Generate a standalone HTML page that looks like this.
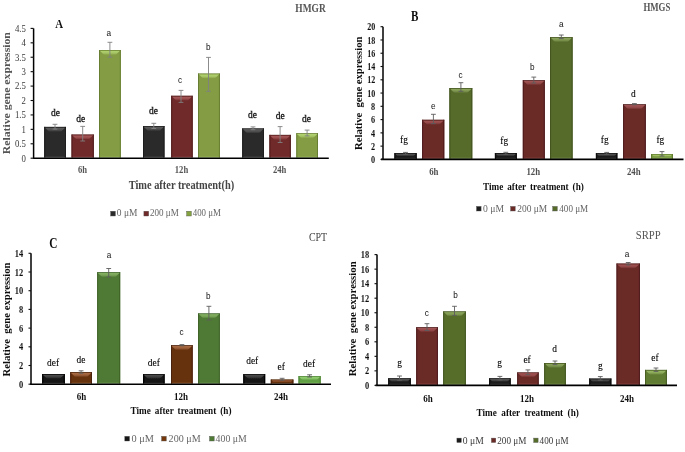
<!DOCTYPE html>
<html><head><meta charset="utf-8"><style>
html,body{margin:0;padding:0;background:#fff;}
svg{display:block;}
</style></head><body>
<svg width="685" height="452" viewBox="0 0 685 452">
<defs><filter id="bl" x="0" y="0" width="100%" height="100%"><feGaussianBlur stdDeviation="0.45"/></filter></defs>
<rect width="685" height="452" fill="#fff"/>
<g filter="url(#bl)">
<rect x="44.2" y="126.9" width="21.70" height="30.70" fill="#2c2c2c"/>
<rect x="44.2" y="126.9" width="1" height="30.70" fill="#1a1a1a"/>
<rect x="64.90" y="126.9" width="1" height="30.70" fill="#1a1a1a"/>
<linearGradient id="g3" x1="0" y1="0" x2="0" y2="1"><stop offset="0.15" stop-color="#5a5a5a"/><stop offset="0.55" stop-color="#5a5a5a" stop-opacity="0.75"/><stop offset="1" stop-color="#5a5a5a" stop-opacity="0"/></linearGradient>
<polygon points="44.90,127.50 65.20,127.50 60.80,131.90 49.30,131.90" fill="url(#g3)"/>
<rect x="44.2" y="126.9" width="21.70" height="0.6" fill="#1a1a1a"/>
<rect x="45.70" y="156.30" width="18.70" height="0.6" fill="#5a5a5a" opacity="0.35"/>
<rect x="71.5" y="134.6" width="22.30" height="23.00" fill="#702a2a"/>
<rect x="71.5" y="134.6" width="1" height="23.00" fill="#521c1c"/>
<rect x="92.80" y="134.6" width="1" height="23.00" fill="#521c1c"/>
<linearGradient id="g10" x1="0" y1="0" x2="0" y2="1"><stop offset="0.15" stop-color="#a65656"/><stop offset="0.55" stop-color="#a65656" stop-opacity="0.75"/><stop offset="1" stop-color="#a65656" stop-opacity="0"/></linearGradient>
<polygon points="72.20,135.20 93.10,135.20 88.70,139.60 76.60,139.60" fill="url(#g10)"/>
<rect x="71.5" y="134.6" width="22.30" height="0.6" fill="#521c1c"/>
<rect x="73.00" y="156.30" width="19.30" height="0.6" fill="#a65656" opacity="0.35"/>
<rect x="99.0" y="50.0" width="21.80" height="107.60" fill="#849d44"/>
<rect x="99.0" y="50.0" width="1" height="107.60" fill="#667d32"/>
<rect x="119.80" y="50.0" width="1" height="107.60" fill="#667d32"/>
<linearGradient id="g17" x1="0" y1="0" x2="0" y2="1"><stop offset="0.15" stop-color="#b0d06e"/><stop offset="0.55" stop-color="#b0d06e" stop-opacity="0.75"/><stop offset="1" stop-color="#b0d06e" stop-opacity="0"/></linearGradient>
<polygon points="99.70,50.60 120.10,50.60 115.70,55.00 104.10,55.00" fill="url(#g17)"/>
<rect x="99.0" y="50.0" width="21.80" height="0.6" fill="#667d32"/>
<rect x="100.50" y="156.30" width="18.80" height="0.6" fill="#b0d06e" opacity="0.35"/>
<rect x="143.0" y="126.10000000000001" width="21.50" height="31.50" fill="#2c2c2c"/>
<rect x="143.0" y="126.10000000000001" width="1" height="31.50" fill="#1a1a1a"/>
<rect x="163.50" y="126.10000000000001" width="1" height="31.50" fill="#1a1a1a"/>
<linearGradient id="g24" x1="0" y1="0" x2="0" y2="1"><stop offset="0.15" stop-color="#5a5a5a"/><stop offset="0.55" stop-color="#5a5a5a" stop-opacity="0.75"/><stop offset="1" stop-color="#5a5a5a" stop-opacity="0"/></linearGradient>
<polygon points="143.70,126.70 163.80,126.70 159.40,131.10 148.10,131.10" fill="url(#g24)"/>
<rect x="143.0" y="126.10000000000001" width="21.50" height="0.6" fill="#1a1a1a"/>
<rect x="144.50" y="156.30" width="18.50" height="0.6" fill="#5a5a5a" opacity="0.35"/>
<rect x="171.2" y="95.8" width="21.50" height="61.80" fill="#702a2a"/>
<rect x="171.2" y="95.8" width="1" height="61.80" fill="#521c1c"/>
<rect x="191.70" y="95.8" width="1" height="61.80" fill="#521c1c"/>
<linearGradient id="g31" x1="0" y1="0" x2="0" y2="1"><stop offset="0.15" stop-color="#a65656"/><stop offset="0.55" stop-color="#a65656" stop-opacity="0.75"/><stop offset="1" stop-color="#a65656" stop-opacity="0"/></linearGradient>
<polygon points="171.90,96.40 192.00,96.40 187.60,100.80 176.30,100.80" fill="url(#g31)"/>
<rect x="171.2" y="95.8" width="21.50" height="0.6" fill="#521c1c"/>
<rect x="172.70" y="156.30" width="18.50" height="0.6" fill="#a65656" opacity="0.35"/>
<rect x="198.0" y="73.60000000000001" width="21.90" height="84.00" fill="#849d44"/>
<rect x="198.0" y="73.60000000000001" width="1" height="84.00" fill="#667d32"/>
<rect x="218.90" y="73.60000000000001" width="1" height="84.00" fill="#667d32"/>
<linearGradient id="g38" x1="0" y1="0" x2="0" y2="1"><stop offset="0.15" stop-color="#b0d06e"/><stop offset="0.55" stop-color="#b0d06e" stop-opacity="0.75"/><stop offset="1" stop-color="#b0d06e" stop-opacity="0"/></linearGradient>
<polygon points="198.70,74.20 219.20,74.20 214.80,78.60 203.10,78.60" fill="url(#g38)"/>
<rect x="198.0" y="73.60000000000001" width="21.90" height="0.6" fill="#667d32"/>
<rect x="199.50" y="156.30" width="18.90" height="0.6" fill="#b0d06e" opacity="0.35"/>
<rect x="242.2" y="128.5" width="21.70" height="29.10" fill="#2c2c2c"/>
<rect x="242.2" y="128.5" width="1" height="29.10" fill="#1a1a1a"/>
<rect x="262.90" y="128.5" width="1" height="29.10" fill="#1a1a1a"/>
<linearGradient id="g45" x1="0" y1="0" x2="0" y2="1"><stop offset="0.15" stop-color="#5a5a5a"/><stop offset="0.55" stop-color="#5a5a5a" stop-opacity="0.75"/><stop offset="1" stop-color="#5a5a5a" stop-opacity="0"/></linearGradient>
<polygon points="242.90,129.10 263.20,129.10 258.80,133.50 247.30,133.50" fill="url(#g45)"/>
<rect x="242.2" y="128.5" width="21.70" height="0.6" fill="#1a1a1a"/>
<rect x="243.70" y="156.30" width="18.70" height="0.6" fill="#5a5a5a" opacity="0.35"/>
<rect x="269.4" y="134.89999999999998" width="21.40" height="22.70" fill="#702a2a"/>
<rect x="269.4" y="134.89999999999998" width="1" height="22.70" fill="#521c1c"/>
<rect x="289.80" y="134.89999999999998" width="1" height="22.70" fill="#521c1c"/>
<linearGradient id="g52" x1="0" y1="0" x2="0" y2="1"><stop offset="0.15" stop-color="#a65656"/><stop offset="0.55" stop-color="#a65656" stop-opacity="0.75"/><stop offset="1" stop-color="#a65656" stop-opacity="0"/></linearGradient>
<polygon points="270.10,135.50 290.10,135.50 285.70,139.90 274.50,139.90" fill="url(#g52)"/>
<rect x="269.4" y="134.89999999999998" width="21.40" height="0.6" fill="#521c1c"/>
<rect x="270.90" y="156.30" width="18.40" height="0.6" fill="#a65656" opacity="0.35"/>
<rect x="296.3" y="133.29999999999998" width="21.70" height="24.30" fill="#849d44"/>
<rect x="296.3" y="133.29999999999998" width="1" height="24.30" fill="#667d32"/>
<rect x="317.00" y="133.29999999999998" width="1" height="24.30" fill="#667d32"/>
<linearGradient id="g59" x1="0" y1="0" x2="0" y2="1"><stop offset="0.15" stop-color="#b0d06e"/><stop offset="0.55" stop-color="#b0d06e" stop-opacity="0.75"/><stop offset="1" stop-color="#b0d06e" stop-opacity="0"/></linearGradient>
<polygon points="297.00,133.90 317.30,133.90 312.90,138.30 301.40,138.30" fill="url(#g59)"/>
<rect x="296.3" y="133.29999999999998" width="21.70" height="0.6" fill="#667d32"/>
<rect x="297.80" y="156.30" width="18.70" height="0.6" fill="#b0d06e" opacity="0.35"/>
<line x1="55" y1="124.3" x2="55" y2="129.1" stroke="#808080" stroke-width="0.9"/>
<line x1="52.6" y1="124.3" x2="57.4" y2="124.3" stroke="#808080" stroke-width="0.9"/>
<line x1="52.6" y1="129.1" x2="57.4" y2="129.1" stroke="#808080" stroke-width="0.9"/>
<line x1="82.7" y1="126.4" x2="82.7" y2="141" stroke="#808080" stroke-width="0.9"/>
<line x1="80.3" y1="126.4" x2="85.10000000000001" y2="126.4" stroke="#808080" stroke-width="0.9"/>
<line x1="80.3" y1="141" x2="85.10000000000001" y2="141" stroke="#808080" stroke-width="0.9"/>
<line x1="109.9" y1="42.3" x2="109.9" y2="57.2" stroke="#808080" stroke-width="0.9"/>
<line x1="107.5" y1="42.3" x2="112.30000000000001" y2="42.3" stroke="#808080" stroke-width="0.9"/>
<line x1="107.5" y1="57.2" x2="112.30000000000001" y2="57.2" stroke="#808080" stroke-width="0.9"/>
<line x1="153.8" y1="123.3" x2="153.8" y2="128.5" stroke="#808080" stroke-width="0.9"/>
<line x1="151.4" y1="123.3" x2="156.20000000000002" y2="123.3" stroke="#808080" stroke-width="0.9"/>
<line x1="151.4" y1="128.5" x2="156.20000000000002" y2="128.5" stroke="#808080" stroke-width="0.9"/>
<line x1="181.0" y1="90.4" x2="181.0" y2="102.4" stroke="#808080" stroke-width="0.9"/>
<line x1="178.6" y1="90.4" x2="183.4" y2="90.4" stroke="#808080" stroke-width="0.9"/>
<line x1="178.6" y1="102.4" x2="183.4" y2="102.4" stroke="#808080" stroke-width="0.9"/>
<line x1="208.5" y1="57.4" x2="208.5" y2="91.3" stroke="#808080" stroke-width="0.9"/>
<line x1="206.1" y1="57.4" x2="210.9" y2="57.4" stroke="#808080" stroke-width="0.9"/>
<line x1="206.1" y1="91.3" x2="210.9" y2="91.3" stroke="#808080" stroke-width="0.9"/>
<line x1="253" y1="126.9" x2="253" y2="129.7" stroke="#808080" stroke-width="0.9"/>
<line x1="250.6" y1="126.9" x2="255.4" y2="126.9" stroke="#808080" stroke-width="0.9"/>
<line x1="250.6" y1="129.7" x2="255.4" y2="129.7" stroke="#808080" stroke-width="0.9"/>
<line x1="280.1" y1="126.6" x2="280.1" y2="142.5" stroke="#808080" stroke-width="0.9"/>
<line x1="277.70000000000005" y1="126.6" x2="282.5" y2="126.6" stroke="#808080" stroke-width="0.9"/>
<line x1="277.70000000000005" y1="142.5" x2="282.5" y2="142.5" stroke="#808080" stroke-width="0.9"/>
<line x1="307.1" y1="130.1" x2="307.1" y2="135.9" stroke="#808080" stroke-width="0.9"/>
<line x1="304.70000000000005" y1="130.1" x2="309.5" y2="130.1" stroke="#808080" stroke-width="0.9"/>
<line x1="304.70000000000005" y1="135.9" x2="309.5" y2="135.9" stroke="#808080" stroke-width="0.9"/>
<line x1="33.6" y1="28.4" x2="33.6" y2="158.89999999999998" stroke="#000" stroke-width="1.5"/>
<line x1="33.0" y1="158.2" x2="328.8" y2="158.2" stroke="#000" stroke-width="1.6"/>
<line x1="30.6" y1="158.2" x2="33.6" y2="158.2" stroke="#111" stroke-width="1.1"/>
<text transform="translate(25.9 161.5) scale(0.8333 1)" font-family="'Liberation Serif', serif" font-size="10.56" fill="#3a3a3a" text-anchor="end">0</text>
<line x1="30.6" y1="143.77777777777777" x2="33.6" y2="143.77777777777777" stroke="#111" stroke-width="1.1"/>
<text transform="translate(25.9 147.07777777777778) scale(0.8333 1)" font-family="'Liberation Serif', serif" font-size="10.56" fill="#3a3a3a" text-anchor="end">0.5</text>
<line x1="30.6" y1="129.35555555555555" x2="33.6" y2="129.35555555555555" stroke="#111" stroke-width="1.1"/>
<text transform="translate(25.9 132.65555555555557) scale(0.8333 1)" font-family="'Liberation Serif', serif" font-size="10.56" fill="#3a3a3a" text-anchor="end">1</text>
<line x1="30.6" y1="114.93333333333332" x2="33.6" y2="114.93333333333332" stroke="#111" stroke-width="1.1"/>
<text transform="translate(25.9 118.23333333333332) scale(0.8333 1)" font-family="'Liberation Serif', serif" font-size="10.56" fill="#3a3a3a" text-anchor="end">1.5</text>
<line x1="30.6" y1="100.5111111111111" x2="33.6" y2="100.5111111111111" stroke="#111" stroke-width="1.1"/>
<text transform="translate(25.9 103.8111111111111) scale(0.8333 1)" font-family="'Liberation Serif', serif" font-size="10.56" fill="#3a3a3a" text-anchor="end">2</text>
<line x1="30.6" y1="86.08888888888889" x2="33.6" y2="86.08888888888889" stroke="#111" stroke-width="1.1"/>
<text transform="translate(25.9 89.38888888888889) scale(0.8333 1)" font-family="'Liberation Serif', serif" font-size="10.56" fill="#3a3a3a" text-anchor="end">2.5</text>
<line x1="30.6" y1="71.66666666666666" x2="33.6" y2="71.66666666666666" stroke="#111" stroke-width="1.1"/>
<text transform="translate(25.9 74.96666666666665) scale(0.8333 1)" font-family="'Liberation Serif', serif" font-size="10.56" fill="#3a3a3a" text-anchor="end">3</text>
<line x1="30.6" y1="57.24444444444444" x2="33.6" y2="57.24444444444444" stroke="#111" stroke-width="1.1"/>
<text transform="translate(25.9 60.54444444444444) scale(0.8333 1)" font-family="'Liberation Serif', serif" font-size="10.56" fill="#3a3a3a" text-anchor="end">3.5</text>
<line x1="30.6" y1="42.82222222222222" x2="33.6" y2="42.82222222222222" stroke="#111" stroke-width="1.1"/>
<text transform="translate(25.9 46.12222222222222) scale(0.8333 1)" font-family="'Liberation Serif', serif" font-size="10.56" fill="#3a3a3a" text-anchor="end">4</text>
<line x1="30.6" y1="28.400000000000006" x2="33.6" y2="28.400000000000006" stroke="#111" stroke-width="1.1"/>
<text transform="translate(25.9 31.700000000000006) scale(0.8333 1)" font-family="'Liberation Serif', serif" font-size="10.56" fill="#3a3a3a" text-anchor="end">4.5</text>
<text transform="translate(10.4 93.2) rotate(-90) scale(1.0000 1)" font-family="'Liberation Serif', serif" font-size="10.20" font-weight="bold" fill="#555" text-anchor="middle" textLength="122.00" lengthAdjust="spacingAndGlyphs">Relative gene expression</text>
<text transform="translate(55.2 27.9) scale(0.8333 1)" font-family="'Liberation Serif', serif" font-size="12.96" font-weight="bold" fill="#111">A</text>
<text transform="translate(295.3 11.6) scale(0.8333 1)" font-family="'Liberation Serif', serif" font-size="11.52" font-weight="bold" fill="#555" textLength="36.48" lengthAdjust="spacingAndGlyphs">HMGR</text>
<text transform="translate(55.6 116.0) scale(0.8696 1)" font-family="'Liberation Serif', serif" font-size="10.92" fill="#111" text-anchor="middle" stroke="#111" stroke-width="0.3">de</text>
<text transform="translate(80.8 122.4) scale(0.8696 1)" font-family="'Liberation Serif', serif" font-size="10.92" fill="#111" text-anchor="middle" stroke="#111" stroke-width="0.3">de</text>
<text transform="translate(108.9 35.8) scale(0.8333 1)" font-family="'Liberation Sans', sans-serif" font-size="9.84" fill="#111" text-anchor="middle">a</text>
<text transform="translate(153.4 114.4) scale(0.8696 1)" font-family="'Liberation Serif', serif" font-size="10.92" fill="#111" text-anchor="middle" stroke="#111" stroke-width="0.3">de</text>
<text transform="translate(180 82.5) scale(0.8333 1)" font-family="'Liberation Sans', sans-serif" font-size="9.84" fill="#111" text-anchor="middle">c</text>
<text transform="translate(208.2 49.8) scale(0.8333 1)" font-family="'Liberation Sans', sans-serif" font-size="9.84" fill="#111" text-anchor="middle">b</text>
<text transform="translate(252.5 118.4) scale(0.8696 1)" font-family="'Liberation Serif', serif" font-size="10.92" fill="#111" text-anchor="middle" stroke="#111" stroke-width="0.3">de</text>
<text transform="translate(280.3 119.0) scale(0.8696 1)" font-family="'Liberation Serif', serif" font-size="10.92" fill="#111" text-anchor="middle" stroke="#111" stroke-width="0.3">de</text>
<text transform="translate(306.5 121.5) scale(0.8696 1)" font-family="'Liberation Serif', serif" font-size="10.92" fill="#111" text-anchor="middle" stroke="#111" stroke-width="0.3">de</text>
<text transform="translate(82.6 172.6) scale(0.8333 1)" font-family="'Liberation Serif', serif" font-size="10.32" font-weight="bold" fill="#555" text-anchor="middle">6h</text>
<text transform="translate(181.5 172.6) scale(0.8333 1)" font-family="'Liberation Serif', serif" font-size="10.32" font-weight="bold" fill="#555" text-anchor="middle">12h</text>
<text transform="translate(279.6 172.6) scale(0.8333 1)" font-family="'Liberation Serif', serif" font-size="10.32" font-weight="bold" fill="#555" text-anchor="middle">24h</text>
<text transform="translate(128.7 188.5) scale(0.8929 1)" font-family="'Liberation Serif', serif" font-size="11.65" font-weight="bold" fill="#444" textLength="118.16" lengthAdjust="spacingAndGlyphs">Time after treatment(h)</text>
<rect x="110.6" y="211.2" width="4.8" height="4.8" fill="#2c2c2c" stroke="#555" stroke-width="0.4"/>
<text transform="translate(116.8 216.2) scale(0.8333 1)" font-family="'Liberation Serif', serif" font-size="10.80" fill="#666" textLength="24.72" lengthAdjust="spacingAndGlyphs">0 μM</text>
<rect x="143.9" y="211.2" width="4.8" height="4.8" fill="#702a2a" stroke="#555" stroke-width="0.4"/>
<text transform="translate(150.0 216.2) scale(0.8333 1)" font-family="'Liberation Serif', serif" font-size="10.80" fill="#666" textLength="34.56" lengthAdjust="spacingAndGlyphs">200 μM</text>
<rect x="186.6" y="211.2" width="4.8" height="4.8" fill="#84a33f" stroke="#555" stroke-width="0.4"/>
<text transform="translate(192.7 216.2) scale(0.8333 1)" font-family="'Liberation Serif', serif" font-size="10.80" fill="#666" textLength="33.84" lengthAdjust="spacingAndGlyphs">400 μM</text>
<rect x="394.4" y="153.2" width="22.30" height="5.60" fill="#1a1a1a"/>
<rect x="394.4" y="153.2" width="1" height="5.60" fill="#080808"/>
<rect x="415.70" y="153.2" width="1" height="5.60" fill="#080808"/>
<linearGradient id="g137" x1="0" y1="0" x2="0" y2="1"><stop offset="0.15" stop-color="#505050"/><stop offset="0.55" stop-color="#505050" stop-opacity="0.75"/><stop offset="1" stop-color="#505050" stop-opacity="0"/></linearGradient>
<polygon points="395.10,153.80 416.00,153.80 413.48,156.32 397.62,156.32" fill="url(#g137)"/>
<rect x="394.4" y="153.2" width="22.30" height="0.6" fill="#080808"/>
<rect x="395.90" y="157.50" width="19.30" height="0.6" fill="#505050" opacity="0.35"/>
<rect x="422.1" y="119.8" width="22.20" height="39.00" fill="#6a2a28"/>
<rect x="422.1" y="119.8" width="1" height="39.00" fill="#4e1c1c"/>
<rect x="443.30" y="119.8" width="1" height="39.00" fill="#4e1c1c"/>
<linearGradient id="g144" x1="0" y1="0" x2="0" y2="1"><stop offset="0.15" stop-color="#a05252"/><stop offset="0.55" stop-color="#a05252" stop-opacity="0.75"/><stop offset="1" stop-color="#a05252" stop-opacity="0"/></linearGradient>
<polygon points="422.80,120.40 443.60,120.40 439.20,124.80 427.20,124.80" fill="url(#g144)"/>
<rect x="422.1" y="119.8" width="22.20" height="0.6" fill="#4e1c1c"/>
<rect x="423.60" y="157.50" width="19.20" height="0.6" fill="#a05252" opacity="0.35"/>
<rect x="449.4" y="88.10000000000001" width="22.90" height="70.70" fill="#566a2c"/>
<rect x="449.4" y="88.10000000000001" width="1" height="70.70" fill="#42531e"/>
<rect x="471.30" y="88.10000000000001" width="1" height="70.70" fill="#42531e"/>
<linearGradient id="g151" x1="0" y1="0" x2="0" y2="1"><stop offset="0.15" stop-color="#8aa35a"/><stop offset="0.55" stop-color="#8aa35a" stop-opacity="0.75"/><stop offset="1" stop-color="#8aa35a" stop-opacity="0"/></linearGradient>
<polygon points="450.10,88.70 471.60,88.70 467.20,93.10 454.50,93.10" fill="url(#g151)"/>
<rect x="449.4" y="88.10000000000001" width="22.90" height="0.6" fill="#42531e"/>
<rect x="450.90" y="157.50" width="19.90" height="0.6" fill="#8aa35a" opacity="0.35"/>
<rect x="494.9" y="153.1" width="21.90" height="5.70" fill="#1a1a1a"/>
<rect x="494.9" y="153.1" width="1" height="5.70" fill="#080808"/>
<rect x="515.80" y="153.1" width="1" height="5.70" fill="#080808"/>
<linearGradient id="g158" x1="0" y1="0" x2="0" y2="1"><stop offset="0.15" stop-color="#505050"/><stop offset="0.55" stop-color="#505050" stop-opacity="0.75"/><stop offset="1" stop-color="#505050" stop-opacity="0"/></linearGradient>
<polygon points="495.60,153.70 516.10,153.70 513.53,156.26 498.16,156.26" fill="url(#g158)"/>
<rect x="494.9" y="153.1" width="21.90" height="0.6" fill="#080808"/>
<rect x="496.40" y="157.50" width="18.90" height="0.6" fill="#505050" opacity="0.35"/>
<rect x="522.8" y="80.3" width="22.00" height="78.50" fill="#6a2a28"/>
<rect x="522.8" y="80.3" width="1" height="78.50" fill="#4e1c1c"/>
<rect x="543.80" y="80.3" width="1" height="78.50" fill="#4e1c1c"/>
<linearGradient id="g165" x1="0" y1="0" x2="0" y2="1"><stop offset="0.15" stop-color="#a05252"/><stop offset="0.55" stop-color="#a05252" stop-opacity="0.75"/><stop offset="1" stop-color="#a05252" stop-opacity="0"/></linearGradient>
<polygon points="523.50,80.90 544.10,80.90 539.70,85.30 527.90,85.30" fill="url(#g165)"/>
<rect x="522.8" y="80.3" width="22.00" height="0.6" fill="#4e1c1c"/>
<rect x="524.30" y="157.50" width="19.00" height="0.6" fill="#a05252" opacity="0.35"/>
<rect x="550.1" y="37.2" width="22.50" height="121.60" fill="#566a2c"/>
<rect x="550.1" y="37.2" width="1" height="121.60" fill="#42531e"/>
<rect x="571.60" y="37.2" width="1" height="121.60" fill="#42531e"/>
<linearGradient id="g172" x1="0" y1="0" x2="0" y2="1"><stop offset="0.15" stop-color="#8aa35a"/><stop offset="0.55" stop-color="#8aa35a" stop-opacity="0.75"/><stop offset="1" stop-color="#8aa35a" stop-opacity="0"/></linearGradient>
<polygon points="550.80,37.80 571.90,37.80 567.50,42.20 555.20,42.20" fill="url(#g172)"/>
<rect x="550.1" y="37.2" width="22.50" height="0.6" fill="#42531e"/>
<rect x="551.60" y="157.50" width="19.50" height="0.6" fill="#8aa35a" opacity="0.35"/>
<rect x="595.9" y="153.2" width="21.50" height="5.60" fill="#1a1a1a"/>
<rect x="595.9" y="153.2" width="1" height="5.60" fill="#080808"/>
<rect x="616.40" y="153.2" width="1" height="5.60" fill="#080808"/>
<linearGradient id="g179" x1="0" y1="0" x2="0" y2="1"><stop offset="0.15" stop-color="#505050"/><stop offset="0.55" stop-color="#505050" stop-opacity="0.75"/><stop offset="1" stop-color="#505050" stop-opacity="0"/></linearGradient>
<polygon points="596.60,153.80 616.70,153.80 614.18,156.32 599.12,156.32" fill="url(#g179)"/>
<rect x="595.9" y="153.2" width="21.50" height="0.6" fill="#080808"/>
<rect x="597.40" y="157.50" width="18.50" height="0.6" fill="#505050" opacity="0.35"/>
<rect x="623.1" y="104.4" width="22.70" height="54.40" fill="#6a2a28"/>
<rect x="623.1" y="104.4" width="1" height="54.40" fill="#4e1c1c"/>
<rect x="644.80" y="104.4" width="1" height="54.40" fill="#4e1c1c"/>
<linearGradient id="g186" x1="0" y1="0" x2="0" y2="1"><stop offset="0.15" stop-color="#a05252"/><stop offset="0.55" stop-color="#a05252" stop-opacity="0.75"/><stop offset="1" stop-color="#a05252" stop-opacity="0"/></linearGradient>
<polygon points="623.80,105.00 645.10,105.00 640.70,109.40 628.20,109.40" fill="url(#g186)"/>
<rect x="623.1" y="104.4" width="22.70" height="0.6" fill="#4e1c1c"/>
<rect x="624.60" y="157.50" width="19.70" height="0.6" fill="#a05252" opacity="0.35"/>
<rect x="651.1" y="154.0" width="21.80" height="4.80" fill="#7b9b45"/>
<rect x="651.1" y="154.0" width="1" height="4.80" fill="#5f7c2e"/>
<rect x="671.90" y="154.0" width="1" height="4.80" fill="#5f7c2e"/>
<linearGradient id="g193" x1="0" y1="0" x2="0" y2="1"><stop offset="0.15" stop-color="#a8c86a"/><stop offset="0.55" stop-color="#a8c86a" stop-opacity="0.75"/><stop offset="1" stop-color="#a8c86a" stop-opacity="0"/></linearGradient>
<polygon points="651.80,154.60 672.20,154.60 670.04,156.76 653.96,156.76" fill="url(#g193)"/>
<rect x="651.1" y="154.0" width="21.80" height="0.6" fill="#5f7c2e"/>
<rect x="652.60" y="157.50" width="18.80" height="0.6" fill="#a8c86a" opacity="0.35"/>
<line x1="405.5" y1="152.4" x2="405.5" y2="154.2" stroke="#5c5c5c" stroke-width="0.9"/>
<line x1="403.1" y1="152.4" x2="407.9" y2="152.4" stroke="#5c5c5c" stroke-width="0.9"/>
<line x1="403.1" y1="154.2" x2="407.9" y2="154.2" stroke="#5c5c5c" stroke-width="0.9"/>
<line x1="505.8" y1="152.3" x2="505.8" y2="154.2" stroke="#5c5c5c" stroke-width="0.9"/>
<line x1="503.40000000000003" y1="152.3" x2="508.2" y2="152.3" stroke="#5c5c5c" stroke-width="0.9"/>
<line x1="503.40000000000003" y1="154.2" x2="508.2" y2="154.2" stroke="#5c5c5c" stroke-width="0.9"/>
<line x1="606.7" y1="152.4" x2="606.7" y2="154.2" stroke="#5c5c5c" stroke-width="0.9"/>
<line x1="604.3000000000001" y1="152.4" x2="609.1" y2="152.4" stroke="#5c5c5c" stroke-width="0.9"/>
<line x1="604.3000000000001" y1="154.2" x2="609.1" y2="154.2" stroke="#5c5c5c" stroke-width="0.9"/>
<line x1="433.4" y1="114.3" x2="433.4" y2="123.6" stroke="#5c5c5c" stroke-width="0.9"/>
<line x1="431.0" y1="114.3" x2="435.79999999999995" y2="114.3" stroke="#5c5c5c" stroke-width="0.9"/>
<line x1="431.0" y1="123.6" x2="435.79999999999995" y2="123.6" stroke="#5c5c5c" stroke-width="0.9"/>
<line x1="460.9" y1="82.7" x2="460.9" y2="91.3" stroke="#5c5c5c" stroke-width="0.9"/>
<line x1="458.5" y1="82.7" x2="463.29999999999995" y2="82.7" stroke="#5c5c5c" stroke-width="0.9"/>
<line x1="458.5" y1="91.3" x2="463.29999999999995" y2="91.3" stroke="#5c5c5c" stroke-width="0.9"/>
<line x1="533.8" y1="77.1" x2="533.8" y2="83.0" stroke="#5c5c5c" stroke-width="0.9"/>
<line x1="531.4" y1="77.1" x2="536.1999999999999" y2="77.1" stroke="#5c5c5c" stroke-width="0.9"/>
<line x1="531.4" y1="83.0" x2="536.1999999999999" y2="83.0" stroke="#5c5c5c" stroke-width="0.9"/>
<line x1="561.3" y1="35.0" x2="561.3" y2="38.6" stroke="#5c5c5c" stroke-width="0.9"/>
<line x1="558.9" y1="35.0" x2="563.6999999999999" y2="35.0" stroke="#5c5c5c" stroke-width="0.9"/>
<line x1="558.9" y1="38.6" x2="563.6999999999999" y2="38.6" stroke="#5c5c5c" stroke-width="0.9"/>
<line x1="634.4" y1="103.6" x2="634.4" y2="104.8" stroke="#5c5c5c" stroke-width="0.9"/>
<line x1="632.0" y1="103.6" x2="636.8" y2="103.6" stroke="#5c5c5c" stroke-width="0.9"/>
<line x1="632.0" y1="104.8" x2="636.8" y2="104.8" stroke="#5c5c5c" stroke-width="0.9"/>
<line x1="662" y1="151.6" x2="662" y2="156.0" stroke="#5c5c5c" stroke-width="0.9"/>
<line x1="659.6" y1="151.6" x2="664.4" y2="151.6" stroke="#5c5c5c" stroke-width="0.9"/>
<line x1="659.6" y1="156.0" x2="664.4" y2="156.0" stroke="#5c5c5c" stroke-width="0.9"/>
<line x1="383.0" y1="26.7" x2="383.0" y2="160.1" stroke="#000" stroke-width="1.5"/>
<line x1="381.0" y1="159.4" x2="683.5" y2="159.4" stroke="#000" stroke-width="1.6"/>
<line x1="380.5" y1="159.4" x2="383.0" y2="159.4" stroke="#111" stroke-width="1.1"/>
<text transform="translate(375.2 163.1) scale(0.8333 1)" font-family="'Liberation Serif', serif" font-size="11.04" font-weight="bold" fill="#111" text-anchor="end" textLength="4.92" lengthAdjust="spacingAndGlyphs">0</text>
<line x1="380.5" y1="146.13" x2="383.0" y2="146.13" stroke="#111" stroke-width="1.1"/>
<text transform="translate(375.2 149.82999999999998) scale(0.8333 1)" font-family="'Liberation Serif', serif" font-size="11.04" font-weight="bold" fill="#111" text-anchor="end" textLength="4.92" lengthAdjust="spacingAndGlyphs">2</text>
<line x1="380.5" y1="132.86" x2="383.0" y2="132.86" stroke="#111" stroke-width="1.1"/>
<text transform="translate(375.2 136.56) scale(0.8333 1)" font-family="'Liberation Serif', serif" font-size="11.04" font-weight="bold" fill="#111" text-anchor="end" textLength="4.92" lengthAdjust="spacingAndGlyphs">4</text>
<line x1="380.5" y1="119.59" x2="383.0" y2="119.59" stroke="#111" stroke-width="1.1"/>
<text transform="translate(375.2 123.29) scale(0.8333 1)" font-family="'Liberation Serif', serif" font-size="11.04" font-weight="bold" fill="#111" text-anchor="end" textLength="4.92" lengthAdjust="spacingAndGlyphs">6</text>
<line x1="380.5" y1="106.32" x2="383.0" y2="106.32" stroke="#111" stroke-width="1.1"/>
<text transform="translate(375.2 110.02) scale(0.8333 1)" font-family="'Liberation Serif', serif" font-size="11.04" font-weight="bold" fill="#111" text-anchor="end" textLength="4.92" lengthAdjust="spacingAndGlyphs">8</text>
<line x1="380.5" y1="93.05" x2="383.0" y2="93.05" stroke="#111" stroke-width="1.1"/>
<text transform="translate(375.2 96.75) scale(0.8333 1)" font-family="'Liberation Serif', serif" font-size="11.04" font-weight="bold" fill="#111" text-anchor="end" textLength="9.60" lengthAdjust="spacingAndGlyphs">10</text>
<line x1="380.5" y1="79.78" x2="383.0" y2="79.78" stroke="#111" stroke-width="1.1"/>
<text transform="translate(375.2 83.48) scale(0.8333 1)" font-family="'Liberation Serif', serif" font-size="11.04" font-weight="bold" fill="#111" text-anchor="end" textLength="9.60" lengthAdjust="spacingAndGlyphs">12</text>
<line x1="380.5" y1="66.50999999999999" x2="383.0" y2="66.50999999999999" stroke="#111" stroke-width="1.1"/>
<text transform="translate(375.2 70.21) scale(0.8333 1)" font-family="'Liberation Serif', serif" font-size="11.04" font-weight="bold" fill="#111" text-anchor="end" textLength="9.60" lengthAdjust="spacingAndGlyphs">14</text>
<line x1="380.5" y1="53.239999999999995" x2="383.0" y2="53.239999999999995" stroke="#111" stroke-width="1.1"/>
<text transform="translate(375.2 56.94) scale(0.8333 1)" font-family="'Liberation Serif', serif" font-size="11.04" font-weight="bold" fill="#111" text-anchor="end" textLength="9.60" lengthAdjust="spacingAndGlyphs">16</text>
<line x1="380.5" y1="39.969999999999985" x2="383.0" y2="39.969999999999985" stroke="#111" stroke-width="1.1"/>
<text transform="translate(375.2 43.66999999999999) scale(0.8333 1)" font-family="'Liberation Serif', serif" font-size="11.04" font-weight="bold" fill="#111" text-anchor="end" textLength="9.60" lengthAdjust="spacingAndGlyphs">18</text>
<line x1="380.5" y1="26.69999999999999" x2="383.0" y2="26.69999999999999" stroke="#111" stroke-width="1.1"/>
<text transform="translate(375.2 30.399999999999988) scale(0.8333 1)" font-family="'Liberation Serif', serif" font-size="11.04" font-weight="bold" fill="#111" text-anchor="end" textLength="9.60" lengthAdjust="spacingAndGlyphs">20</text>
<text transform="translate(362.0 93.3) rotate(-90) scale(1.0000 1)" font-family="'Liberation Serif', serif" font-size="9.60" font-weight="bold" fill="#111" text-anchor="middle" textLength="113.30" lengthAdjust="spacingAndGlyphs">Relative &#160;gene expression</text>
<text transform="translate(411.1 20.9) scale(0.7812 1)" font-family="'Liberation Serif', serif" font-size="14.59" font-weight="bold" fill="#111" textLength="9.47" lengthAdjust="spacingAndGlyphs">B</text>
<text transform="translate(643.4 10.6) scale(0.8333 1)" font-family="'Liberation Serif', serif" font-size="11.76" font-weight="bold" fill="#555" textLength="32.40" lengthAdjust="spacingAndGlyphs">HMGS</text>
<text transform="translate(404 143.0) scale(1.0000 1)" font-family="'Liberation Serif', serif" font-size="9.40" fill="#000" text-anchor="middle" stroke="#000" stroke-width="0.1">fg</text>
<text transform="translate(433.2 109.1) scale(0.8333 1)" font-family="'Liberation Sans', sans-serif" font-size="9.84" fill="#111" text-anchor="middle">e</text>
<text transform="translate(460.6 77.6) scale(0.8333 1)" font-family="'Liberation Sans', sans-serif" font-size="9.84" fill="#111" text-anchor="middle">c</text>
<text transform="translate(504.2 143.8) scale(1.0000 1)" font-family="'Liberation Serif', serif" font-size="9.40" fill="#000" text-anchor="middle" stroke="#000" stroke-width="0.1">fg</text>
<text transform="translate(532.3 69.9) scale(0.8333 1)" font-family="'Liberation Sans', sans-serif" font-size="9.84" fill="#111" text-anchor="middle">b</text>
<text transform="translate(561.3 27.3) scale(0.8333 1)" font-family="'Liberation Sans', sans-serif" font-size="9.84" fill="#111" text-anchor="middle">a</text>
<text transform="translate(604.7 143.2) scale(1.0000 1)" font-family="'Liberation Serif', serif" font-size="9.40" fill="#000" text-anchor="middle" stroke="#000" stroke-width="0.1">fg</text>
<text transform="translate(633.4 97.4) scale(1.0000 1)" font-family="'Liberation Serif', serif" font-size="9.40" fill="#000" text-anchor="middle" stroke="#000" stroke-width="0.1">d</text>
<text transform="translate(660.3 143.2) scale(1.0000 1)" font-family="'Liberation Serif', serif" font-size="9.40" fill="#000" text-anchor="middle" stroke="#000" stroke-width="0.1">fg</text>
<text transform="translate(433.8 174.7) scale(0.8333 1)" font-family="'Liberation Serif', serif" font-size="10.56" font-weight="bold" fill="#505050" text-anchor="middle">6h</text>
<text transform="translate(533.3 174.7) scale(0.8333 1)" font-family="'Liberation Serif', serif" font-size="10.56" font-weight="bold" fill="#505050" text-anchor="middle">12h</text>
<text transform="translate(633.8 174.7) scale(0.8333 1)" font-family="'Liberation Serif', serif" font-size="10.56" font-weight="bold" fill="#505050" text-anchor="middle">24h</text>
<text transform="translate(483 189.8) scale(0.9091 1)" font-family="'Liberation Serif', serif" font-size="10.12" font-weight="bold" fill="#111" word-spacing="1.9">Time after treatment (h)</text>
<rect x="476.5" y="206.4" width="4.6" height="4.6" fill="#1c1c1c" stroke="#555" stroke-width="0.4"/>
<text transform="translate(483 211.8) scale(0.8333 1)" font-family="'Liberation Serif', serif" font-size="10.80" fill="#666" textLength="25.20" lengthAdjust="spacingAndGlyphs">0 μM</text>
<rect x="510.6" y="206.4" width="4.6" height="4.6" fill="#6a2a28" stroke="#555" stroke-width="0.4"/>
<text transform="translate(517.2 211.8) scale(0.8333 1)" font-family="'Liberation Serif', serif" font-size="10.80" fill="#666" textLength="36.00" lengthAdjust="spacingAndGlyphs">200 μM</text>
<rect x="552.7" y="206.4" width="4.6" height="4.6" fill="#566a2c" stroke="#555" stroke-width="0.4"/>
<text transform="translate(559.3 211.8) scale(0.8333 1)" font-family="'Liberation Serif', serif" font-size="10.80" fill="#666" textLength="34.68" lengthAdjust="spacingAndGlyphs">400 μM</text>
<rect x="42.2" y="374.09999999999997" width="22.60" height="9.50" fill="#141414"/>
<rect x="42.2" y="374.09999999999997" width="1" height="9.50" fill="#030303"/>
<rect x="63.80" y="374.09999999999997" width="1" height="9.50" fill="#030303"/>
<linearGradient id="g273" x1="0" y1="0" x2="0" y2="1"><stop offset="0.15" stop-color="#4a4a4a"/><stop offset="0.55" stop-color="#4a4a4a" stop-opacity="0.75"/><stop offset="1" stop-color="#4a4a4a" stop-opacity="0"/></linearGradient>
<polygon points="42.90,374.70 64.10,374.70 59.82,378.97 47.18,378.97" fill="url(#g273)"/>
<rect x="42.2" y="374.09999999999997" width="22.60" height="0.6" fill="#030303"/>
<rect x="43.70" y="382.30" width="19.60" height="0.6" fill="#4a4a4a" opacity="0.35"/>
<rect x="70.2" y="372.2" width="21.80" height="11.40" fill="#66300f"/>
<rect x="70.2" y="372.2" width="1" height="11.40" fill="#4a2208"/>
<rect x="91.00" y="372.2" width="1" height="11.40" fill="#4a2208"/>
<linearGradient id="g280" x1="0" y1="0" x2="0" y2="1"><stop offset="0.15" stop-color="#a86a42"/><stop offset="0.55" stop-color="#a86a42" stop-opacity="0.75"/><stop offset="1" stop-color="#a86a42" stop-opacity="0"/></linearGradient>
<polygon points="70.90,372.80 91.30,372.80 86.90,377.20 75.30,377.20" fill="url(#g280)"/>
<rect x="70.2" y="372.2" width="21.80" height="0.6" fill="#4a2208"/>
<rect x="71.70" y="382.30" width="18.80" height="0.6" fill="#a86a42" opacity="0.35"/>
<rect x="97.2" y="272.3" width="23.00" height="111.30" fill="#4f7a34"/>
<rect x="97.2" y="272.3" width="1" height="111.30" fill="#3c6026"/>
<rect x="119.20" y="272.3" width="1" height="111.30" fill="#3c6026"/>
<linearGradient id="g287" x1="0" y1="0" x2="0" y2="1"><stop offset="0.15" stop-color="#82ae60"/><stop offset="0.55" stop-color="#82ae60" stop-opacity="0.75"/><stop offset="1" stop-color="#82ae60" stop-opacity="0"/></linearGradient>
<polygon points="97.90,272.90 119.50,272.90 115.10,277.30 102.30,277.30" fill="url(#g287)"/>
<rect x="97.2" y="272.3" width="23.00" height="0.6" fill="#3c6026"/>
<rect x="98.70" y="382.30" width="20.00" height="0.6" fill="#82ae60" opacity="0.35"/>
<rect x="143.1" y="374.2" width="21.50" height="9.40" fill="#141414"/>
<rect x="143.1" y="374.2" width="1" height="9.40" fill="#030303"/>
<rect x="163.60" y="374.2" width="1" height="9.40" fill="#030303"/>
<linearGradient id="g294" x1="0" y1="0" x2="0" y2="1"><stop offset="0.15" stop-color="#4a4a4a"/><stop offset="0.55" stop-color="#4a4a4a" stop-opacity="0.75"/><stop offset="1" stop-color="#4a4a4a" stop-opacity="0"/></linearGradient>
<polygon points="143.80,374.80 163.90,374.80 159.67,379.03 148.03,379.03" fill="url(#g294)"/>
<rect x="143.1" y="374.2" width="21.50" height="0.6" fill="#030303"/>
<rect x="144.60" y="382.30" width="18.50" height="0.6" fill="#4a4a4a" opacity="0.35"/>
<rect x="171.0" y="345.3" width="21.70" height="38.30" fill="#66300f"/>
<rect x="171.0" y="345.3" width="1" height="38.30" fill="#4a2208"/>
<rect x="191.70" y="345.3" width="1" height="38.30" fill="#4a2208"/>
<linearGradient id="g301" x1="0" y1="0" x2="0" y2="1"><stop offset="0.15" stop-color="#a86a42"/><stop offset="0.55" stop-color="#a86a42" stop-opacity="0.75"/><stop offset="1" stop-color="#a86a42" stop-opacity="0"/></linearGradient>
<polygon points="171.70,345.90 192.00,345.90 187.60,350.30 176.10,350.30" fill="url(#g301)"/>
<rect x="171.0" y="345.3" width="21.70" height="0.6" fill="#4a2208"/>
<rect x="172.50" y="382.30" width="18.70" height="0.6" fill="#a86a42" opacity="0.35"/>
<rect x="198.1" y="313.5" width="21.70" height="70.10" fill="#4f7a34"/>
<rect x="198.1" y="313.5" width="1" height="70.10" fill="#3c6026"/>
<rect x="218.80" y="313.5" width="1" height="70.10" fill="#3c6026"/>
<linearGradient id="g308" x1="0" y1="0" x2="0" y2="1"><stop offset="0.15" stop-color="#82ae60"/><stop offset="0.55" stop-color="#82ae60" stop-opacity="0.75"/><stop offset="1" stop-color="#82ae60" stop-opacity="0"/></linearGradient>
<polygon points="198.80,314.10 219.10,314.10 214.70,318.50 203.20,318.50" fill="url(#g308)"/>
<rect x="198.1" y="313.5" width="21.70" height="0.6" fill="#3c6026"/>
<rect x="199.60" y="382.30" width="18.70" height="0.6" fill="#82ae60" opacity="0.35"/>
<rect x="243.3" y="374.2" width="21.90" height="9.40" fill="#141414"/>
<rect x="243.3" y="374.2" width="1" height="9.40" fill="#030303"/>
<rect x="264.20" y="374.2" width="1" height="9.40" fill="#030303"/>
<linearGradient id="g315" x1="0" y1="0" x2="0" y2="1"><stop offset="0.15" stop-color="#4a4a4a"/><stop offset="0.55" stop-color="#4a4a4a" stop-opacity="0.75"/><stop offset="1" stop-color="#4a4a4a" stop-opacity="0"/></linearGradient>
<polygon points="244.00,374.80 264.50,374.80 260.27,379.03 248.23,379.03" fill="url(#g315)"/>
<rect x="243.3" y="374.2" width="21.90" height="0.6" fill="#030303"/>
<rect x="244.80" y="382.30" width="18.90" height="0.6" fill="#4a4a4a" opacity="0.35"/>
<rect x="270.8" y="379.59999999999997" width="22.60" height="4.00" fill="#66300f"/>
<rect x="270.8" y="379.59999999999997" width="1" height="4.00" fill="#4a2208"/>
<rect x="292.40" y="379.59999999999997" width="1" height="4.00" fill="#4a2208"/>
<linearGradient id="g322" x1="0" y1="0" x2="0" y2="1"><stop offset="0.15" stop-color="#a86a42"/><stop offset="0.55" stop-color="#a86a42" stop-opacity="0.75"/><stop offset="1" stop-color="#a86a42" stop-opacity="0"/></linearGradient>
<polygon points="271.50,380.20 292.70,380.20 290.90,382.00 273.30,382.00" fill="url(#g322)"/>
<rect x="270.8" y="379.59999999999997" width="22.60" height="0.6" fill="#4a2208"/>
<rect x="298.5" y="376.2" width="22.20" height="7.40" fill="#62a044"/>
<rect x="298.5" y="376.2" width="1" height="7.40" fill="#4c8434"/>
<rect x="319.70" y="376.2" width="1" height="7.40" fill="#4c8434"/>
<linearGradient id="g328" x1="0" y1="0" x2="0" y2="1"><stop offset="0.15" stop-color="#92cc70"/><stop offset="0.55" stop-color="#92cc70" stop-opacity="0.75"/><stop offset="1" stop-color="#92cc70" stop-opacity="0"/></linearGradient>
<polygon points="299.20,376.80 320.00,376.80 316.67,380.13 302.53,380.13" fill="url(#g328)"/>
<rect x="298.5" y="376.2" width="22.20" height="0.6" fill="#4c8434"/>
<rect x="300.00" y="382.30" width="19.20" height="0.6" fill="#92cc70" opacity="0.35"/>
<line x1="81.1" y1="370.8" x2="81.1" y2="373.2" stroke="#5c5c5c" stroke-width="0.9"/>
<line x1="78.69999999999999" y1="370.8" x2="83.5" y2="370.8" stroke="#5c5c5c" stroke-width="0.9"/>
<line x1="78.69999999999999" y1="373.2" x2="83.5" y2="373.2" stroke="#5c5c5c" stroke-width="0.9"/>
<line x1="108.7" y1="268.5" x2="108.7" y2="277.0" stroke="#5c5c5c" stroke-width="0.9"/>
<line x1="106.3" y1="268.5" x2="111.10000000000001" y2="268.5" stroke="#5c5c5c" stroke-width="0.9"/>
<line x1="106.3" y1="277.0" x2="111.10000000000001" y2="277.0" stroke="#5c5c5c" stroke-width="0.9"/>
<line x1="181.9" y1="344.6" x2="181.9" y2="345.8" stroke="#5c5c5c" stroke-width="0.9"/>
<line x1="179.5" y1="344.6" x2="184.3" y2="344.6" stroke="#5c5c5c" stroke-width="0.9"/>
<line x1="179.5" y1="345.8" x2="184.3" y2="345.8" stroke="#5c5c5c" stroke-width="0.9"/>
<line x1="208.9" y1="306.3" x2="208.9" y2="320.0" stroke="#5c5c5c" stroke-width="0.9"/>
<line x1="206.5" y1="306.3" x2="211.3" y2="306.3" stroke="#5c5c5c" stroke-width="0.9"/>
<line x1="206.5" y1="320.0" x2="211.3" y2="320.0" stroke="#5c5c5c" stroke-width="0.9"/>
<line x1="282.1" y1="378.3" x2="282.1" y2="380.2" stroke="#5c5c5c" stroke-width="0.9"/>
<line x1="279.70000000000005" y1="378.3" x2="284.5" y2="378.3" stroke="#5c5c5c" stroke-width="0.9"/>
<line x1="279.70000000000005" y1="380.2" x2="284.5" y2="380.2" stroke="#5c5c5c" stroke-width="0.9"/>
<line x1="309.6" y1="374.8" x2="309.6" y2="377.0" stroke="#5c5c5c" stroke-width="0.9"/>
<line x1="307.20000000000005" y1="374.8" x2="312.0" y2="374.8" stroke="#5c5c5c" stroke-width="0.9"/>
<line x1="307.20000000000005" y1="377.0" x2="312.0" y2="377.0" stroke="#5c5c5c" stroke-width="0.9"/>
<line x1="31.0" y1="253.3" x2="31.0" y2="384.9" stroke="#000" stroke-width="1.5"/>
<line x1="30.0" y1="384.2" x2="331" y2="384.2" stroke="#000" stroke-width="1.6"/>
<line x1="28.5" y1="384.2" x2="31.0" y2="384.2" stroke="#111" stroke-width="1.1"/>
<text transform="translate(23.2 387.7) scale(0.8333 1)" font-family="'Liberation Serif', serif" font-size="11.28" font-weight="bold" fill="#111" text-anchor="end" textLength="5.04" lengthAdjust="spacingAndGlyphs">0</text>
<line x1="28.5" y1="365.5" x2="31.0" y2="365.5" stroke="#111" stroke-width="1.1"/>
<text transform="translate(23.2 369.0) scale(0.8333 1)" font-family="'Liberation Serif', serif" font-size="11.28" font-weight="bold" fill="#111" text-anchor="end" textLength="5.04" lengthAdjust="spacingAndGlyphs">2</text>
<line x1="28.5" y1="346.8" x2="31.0" y2="346.8" stroke="#111" stroke-width="1.1"/>
<text transform="translate(23.2 350.3) scale(0.8333 1)" font-family="'Liberation Serif', serif" font-size="11.28" font-weight="bold" fill="#111" text-anchor="end" textLength="5.04" lengthAdjust="spacingAndGlyphs">4</text>
<line x1="28.5" y1="328.1" x2="31.0" y2="328.1" stroke="#111" stroke-width="1.1"/>
<text transform="translate(23.2 331.6) scale(0.8333 1)" font-family="'Liberation Serif', serif" font-size="11.28" font-weight="bold" fill="#111" text-anchor="end" textLength="5.04" lengthAdjust="spacingAndGlyphs">6</text>
<line x1="28.5" y1="309.4" x2="31.0" y2="309.4" stroke="#111" stroke-width="1.1"/>
<text transform="translate(23.2 312.9) scale(0.8333 1)" font-family="'Liberation Serif', serif" font-size="11.28" font-weight="bold" fill="#111" text-anchor="end" textLength="5.04" lengthAdjust="spacingAndGlyphs">8</text>
<line x1="28.5" y1="290.7" x2="31.0" y2="290.7" stroke="#111" stroke-width="1.1"/>
<text transform="translate(23.2 294.2) scale(0.8333 1)" font-family="'Liberation Serif', serif" font-size="11.28" font-weight="bold" fill="#111" text-anchor="end" textLength="10.08" lengthAdjust="spacingAndGlyphs">10</text>
<line x1="28.5" y1="272.0" x2="31.0" y2="272.0" stroke="#111" stroke-width="1.1"/>
<text transform="translate(23.2 275.5) scale(0.8333 1)" font-family="'Liberation Serif', serif" font-size="11.28" font-weight="bold" fill="#111" text-anchor="end" textLength="10.08" lengthAdjust="spacingAndGlyphs">12</text>
<line x1="28.5" y1="253.3" x2="31.0" y2="253.3" stroke="#111" stroke-width="1.1"/>
<text transform="translate(23.2 256.8) scale(0.8333 1)" font-family="'Liberation Serif', serif" font-size="11.28" font-weight="bold" fill="#111" text-anchor="end" textLength="10.08" lengthAdjust="spacingAndGlyphs">14</text>
<text transform="translate(9.9 319.5) rotate(-90) scale(1.0000 1)" font-family="'Liberation Serif', serif" font-size="9.60" font-weight="bold" fill="#111" text-anchor="middle" textLength="114.00" lengthAdjust="spacingAndGlyphs">Relative &#160;gene expression</text>
<text transform="translate(49.3 247.8) scale(0.8333 1)" font-family="'Liberation Serif', serif" font-size="13.56" font-weight="bold" fill="#111">C</text>
<text transform="translate(308.9 241.2) scale(0.8333 1)" font-family="'Liberation Serif', serif" font-size="12.00" fill="#444" textLength="21.96" lengthAdjust="spacingAndGlyphs">CPT</text>
<text transform="translate(53.1 366.4) scale(1.0000 1)" font-family="'Liberation Serif', serif" font-size="9.40" fill="#000" text-anchor="middle" stroke="#000" stroke-width="0.1">def</text>
<text transform="translate(80.9 363.4) scale(1.0000 1)" font-family="'Liberation Serif', serif" font-size="9.40" fill="#000" text-anchor="middle" stroke="#000" stroke-width="0.1">de</text>
<text transform="translate(109.1 258.4) scale(0.8333 1)" font-family="'Liberation Sans', sans-serif" font-size="9.84" fill="#111" text-anchor="middle">a</text>
<text transform="translate(153.8 365.8) scale(1.0000 1)" font-family="'Liberation Serif', serif" font-size="9.40" fill="#000" text-anchor="middle" stroke="#000" stroke-width="0.1">def</text>
<text transform="translate(181.6 335) scale(0.8333 1)" font-family="'Liberation Sans', sans-serif" font-size="9.84" fill="#111" text-anchor="middle">c</text>
<text transform="translate(208.4 299) scale(0.8333 1)" font-family="'Liberation Sans', sans-serif" font-size="9.84" fill="#111" text-anchor="middle">b</text>
<text transform="translate(252.2 363.8) scale(1.0000 1)" font-family="'Liberation Serif', serif" font-size="9.40" fill="#000" text-anchor="middle" stroke="#000" stroke-width="0.1">def</text>
<text transform="translate(281.2 369.8) scale(1.0000 1)" font-family="'Liberation Serif', serif" font-size="9.40" fill="#000" text-anchor="middle" stroke="#000" stroke-width="0.1">ef</text>
<text transform="translate(309.1 366.8) scale(1.0000 1)" font-family="'Liberation Serif', serif" font-size="9.40" fill="#000" text-anchor="middle" stroke="#000" stroke-width="0.1">def</text>
<text transform="translate(81.4 399.6) scale(0.8333 1)" font-family="'Liberation Serif', serif" font-size="10.80" font-weight="bold" fill="#111" text-anchor="middle">6h</text>
<text transform="translate(180.9 399.6) scale(0.8333 1)" font-family="'Liberation Serif', serif" font-size="10.80" font-weight="bold" fill="#111" text-anchor="middle">12h</text>
<text transform="translate(281 399.6) scale(0.8333 1)" font-family="'Liberation Serif', serif" font-size="10.80" font-weight="bold" fill="#111" text-anchor="middle">24h</text>
<text transform="translate(130.6 414.0) scale(0.9091 1)" font-family="'Liberation Serif', serif" font-size="10.12" font-weight="bold" fill="#111" word-spacing="1.9">Time after treatment (h)</text>
<rect x="124.8" y="436.3" width="4.7" height="4.7" fill="#141414" stroke="#555" stroke-width="0.4"/>
<text transform="translate(131.5 442.2) scale(0.8333 1)" font-family="'Liberation Serif', serif" font-size="10.80" fill="#666" textLength="26.88" lengthAdjust="spacingAndGlyphs">0 μM</text>
<rect x="161.6" y="436.3" width="4.7" height="4.7" fill="#743810" stroke="#555" stroke-width="0.4"/>
<text transform="translate(168.6 442.2) scale(0.8333 1)" font-family="'Liberation Serif', serif" font-size="10.80" fill="#666" textLength="38.40" lengthAdjust="spacingAndGlyphs">200 μM</text>
<rect x="209.5" y="436.3" width="4.7" height="4.7" fill="#4f7a34" stroke="#555" stroke-width="0.4"/>
<text transform="translate(215.6 442.2) scale(0.8333 1)" font-family="'Liberation Serif', serif" font-size="10.80" fill="#666" textLength="37.44" lengthAdjust="spacingAndGlyphs">400 μM</text>
<rect x="388.2" y="378.4" width="22.60" height="6.40" fill="#1a1a1a"/>
<rect x="388.2" y="378.4" width="1" height="6.40" fill="#080808"/>
<rect x="409.80" y="378.4" width="1" height="6.40" fill="#080808"/>
<linearGradient id="g393" x1="0" y1="0" x2="0" y2="1"><stop offset="0.15" stop-color="#505050"/><stop offset="0.55" stop-color="#505050" stop-opacity="0.75"/><stop offset="1" stop-color="#505050" stop-opacity="0"/></linearGradient>
<polygon points="388.90,379.00 410.10,379.00 407.22,381.88 391.78,381.88" fill="url(#g393)"/>
<rect x="388.2" y="378.4" width="22.60" height="0.6" fill="#080808"/>
<rect x="389.70" y="383.50" width="19.60" height="0.6" fill="#505050" opacity="0.35"/>
<rect x="416.2" y="327.3" width="21.70" height="57.50" fill="#6b2a28"/>
<rect x="416.2" y="327.3" width="1" height="57.50" fill="#4e1c1c"/>
<rect x="436.90" y="327.3" width="1" height="57.50" fill="#4e1c1c"/>
<linearGradient id="g400" x1="0" y1="0" x2="0" y2="1"><stop offset="0.15" stop-color="#a05252"/><stop offset="0.55" stop-color="#a05252" stop-opacity="0.75"/><stop offset="1" stop-color="#a05252" stop-opacity="0"/></linearGradient>
<polygon points="416.90,327.90 437.20,327.90 432.80,332.30 421.30,332.30" fill="url(#g400)"/>
<rect x="416.2" y="327.3" width="21.70" height="0.6" fill="#4e1c1c"/>
<rect x="417.70" y="383.50" width="18.70" height="0.6" fill="#a05252" opacity="0.35"/>
<rect x="443.2" y="311.5" width="22.60" height="73.30" fill="#566d2c"/>
<rect x="443.2" y="311.5" width="1" height="73.30" fill="#42531e"/>
<rect x="464.80" y="311.5" width="1" height="73.30" fill="#42531e"/>
<linearGradient id="g407" x1="0" y1="0" x2="0" y2="1"><stop offset="0.15" stop-color="#8aa35a"/><stop offset="0.55" stop-color="#8aa35a" stop-opacity="0.75"/><stop offset="1" stop-color="#8aa35a" stop-opacity="0"/></linearGradient>
<polygon points="443.90,312.10 465.10,312.10 460.70,316.50 448.30,316.50" fill="url(#g407)"/>
<rect x="443.2" y="311.5" width="22.60" height="0.6" fill="#42531e"/>
<rect x="444.70" y="383.50" width="19.60" height="0.6" fill="#8aa35a" opacity="0.35"/>
<rect x="489.1" y="378.4" width="21.60" height="6.40" fill="#1a1a1a"/>
<rect x="489.1" y="378.4" width="1" height="6.40" fill="#080808"/>
<rect x="509.70" y="378.4" width="1" height="6.40" fill="#080808"/>
<linearGradient id="g414" x1="0" y1="0" x2="0" y2="1"><stop offset="0.15" stop-color="#505050"/><stop offset="0.55" stop-color="#505050" stop-opacity="0.75"/><stop offset="1" stop-color="#505050" stop-opacity="0"/></linearGradient>
<polygon points="489.80,379.00 510.00,379.00 507.12,381.88 492.68,381.88" fill="url(#g414)"/>
<rect x="489.1" y="378.4" width="21.60" height="0.6" fill="#080808"/>
<rect x="490.60" y="383.50" width="18.60" height="0.6" fill="#505050" opacity="0.35"/>
<rect x="517.2" y="372.5" width="21.50" height="12.30" fill="#6b2a28"/>
<rect x="517.2" y="372.5" width="1" height="12.30" fill="#4e1c1c"/>
<rect x="537.70" y="372.5" width="1" height="12.30" fill="#4e1c1c"/>
<linearGradient id="g421" x1="0" y1="0" x2="0" y2="1"><stop offset="0.15" stop-color="#a05252"/><stop offset="0.55" stop-color="#a05252" stop-opacity="0.75"/><stop offset="1" stop-color="#a05252" stop-opacity="0"/></linearGradient>
<polygon points="517.90,373.10 538.00,373.10 533.60,377.50 522.30,377.50" fill="url(#g421)"/>
<rect x="517.2" y="372.5" width="21.50" height="0.6" fill="#4e1c1c"/>
<rect x="518.70" y="383.50" width="18.50" height="0.6" fill="#a05252" opacity="0.35"/>
<rect x="544.2" y="363.0" width="21.60" height="21.80" fill="#566d2c"/>
<rect x="544.2" y="363.0" width="1" height="21.80" fill="#42531e"/>
<rect x="564.80" y="363.0" width="1" height="21.80" fill="#42531e"/>
<linearGradient id="g428" x1="0" y1="0" x2="0" y2="1"><stop offset="0.15" stop-color="#8aa35a"/><stop offset="0.55" stop-color="#8aa35a" stop-opacity="0.75"/><stop offset="1" stop-color="#8aa35a" stop-opacity="0"/></linearGradient>
<polygon points="544.90,363.60 565.10,363.60 560.70,368.00 549.30,368.00" fill="url(#g428)"/>
<rect x="544.2" y="363.0" width="21.60" height="0.6" fill="#42531e"/>
<rect x="545.70" y="383.50" width="18.60" height="0.6" fill="#8aa35a" opacity="0.35"/>
<rect x="589.2" y="378.59999999999997" width="22.20" height="6.20" fill="#1a1a1a"/>
<rect x="589.2" y="378.59999999999997" width="1" height="6.20" fill="#080808"/>
<rect x="610.40" y="378.59999999999997" width="1" height="6.20" fill="#080808"/>
<linearGradient id="g435" x1="0" y1="0" x2="0" y2="1"><stop offset="0.15" stop-color="#505050"/><stop offset="0.55" stop-color="#505050" stop-opacity="0.75"/><stop offset="1" stop-color="#505050" stop-opacity="0"/></linearGradient>
<polygon points="589.90,379.20 610.70,379.20 607.91,381.99 592.69,381.99" fill="url(#g435)"/>
<rect x="589.2" y="378.59999999999997" width="22.20" height="0.6" fill="#080808"/>
<rect x="590.70" y="383.50" width="19.20" height="0.6" fill="#505050" opacity="0.35"/>
<rect x="616.5" y="263.59999999999997" width="23.40" height="121.20" fill="#6b2a28"/>
<rect x="616.5" y="263.59999999999997" width="1" height="121.20" fill="#4e1c1c"/>
<rect x="638.90" y="263.59999999999997" width="1" height="121.20" fill="#4e1c1c"/>
<linearGradient id="g442" x1="0" y1="0" x2="0" y2="1"><stop offset="0.15" stop-color="#a05252"/><stop offset="0.55" stop-color="#a05252" stop-opacity="0.75"/><stop offset="1" stop-color="#a05252" stop-opacity="0"/></linearGradient>
<polygon points="617.20,264.20 639.20,264.20 634.80,268.60 621.60,268.60" fill="url(#g442)"/>
<rect x="616.5" y="263.59999999999997" width="23.40" height="0.6" fill="#4e1c1c"/>
<rect x="618.00" y="383.50" width="20.40" height="0.6" fill="#a05252" opacity="0.35"/>
<rect x="645.0" y="369.9" width="21.90" height="14.90" fill="#5f7b31"/>
<rect x="645.0" y="369.9" width="1" height="14.90" fill="#485e24"/>
<rect x="665.90" y="369.9" width="1" height="14.90" fill="#485e24"/>
<linearGradient id="g449" x1="0" y1="0" x2="0" y2="1"><stop offset="0.15" stop-color="#98b665"/><stop offset="0.55" stop-color="#98b665" stop-opacity="0.75"/><stop offset="1" stop-color="#98b665" stop-opacity="0"/></linearGradient>
<polygon points="645.70,370.50 666.20,370.50 661.80,374.90 650.10,374.90" fill="url(#g449)"/>
<rect x="645.0" y="369.9" width="21.90" height="0.6" fill="#485e24"/>
<rect x="646.50" y="383.50" width="18.90" height="0.6" fill="#98b665" opacity="0.35"/>
<line x1="399.5" y1="376.0" x2="399.5" y2="380.4" stroke="#5c5c5c" stroke-width="0.9"/>
<line x1="397.1" y1="376.0" x2="401.9" y2="376.0" stroke="#5c5c5c" stroke-width="0.9"/>
<line x1="397.1" y1="380.4" x2="401.9" y2="380.4" stroke="#5c5c5c" stroke-width="0.9"/>
<line x1="427.0" y1="323.7" x2="427.0" y2="330.5" stroke="#5c5c5c" stroke-width="0.9"/>
<line x1="424.6" y1="323.7" x2="429.4" y2="323.7" stroke="#5c5c5c" stroke-width="0.9"/>
<line x1="424.6" y1="330.5" x2="429.4" y2="330.5" stroke="#5c5c5c" stroke-width="0.9"/>
<line x1="454.5" y1="306.3" x2="454.5" y2="315.4" stroke="#5c5c5c" stroke-width="0.9"/>
<line x1="452.1" y1="306.3" x2="456.9" y2="306.3" stroke="#5c5c5c" stroke-width="0.9"/>
<line x1="452.1" y1="315.4" x2="456.9" y2="315.4" stroke="#5c5c5c" stroke-width="0.9"/>
<line x1="499.9" y1="376.4" x2="499.9" y2="380.0" stroke="#5c5c5c" stroke-width="0.9"/>
<line x1="497.5" y1="376.4" x2="502.29999999999995" y2="376.4" stroke="#5c5c5c" stroke-width="0.9"/>
<line x1="497.5" y1="380.0" x2="502.29999999999995" y2="380.0" stroke="#5c5c5c" stroke-width="0.9"/>
<line x1="527.9" y1="369.9" x2="527.9" y2="374.7" stroke="#5c5c5c" stroke-width="0.9"/>
<line x1="525.5" y1="369.9" x2="530.3" y2="369.9" stroke="#5c5c5c" stroke-width="0.9"/>
<line x1="525.5" y1="374.7" x2="530.3" y2="374.7" stroke="#5c5c5c" stroke-width="0.9"/>
<line x1="555.0" y1="361.0" x2="555.0" y2="364.6" stroke="#5c5c5c" stroke-width="0.9"/>
<line x1="552.6" y1="361.0" x2="557.4" y2="361.0" stroke="#5c5c5c" stroke-width="0.9"/>
<line x1="552.6" y1="364.6" x2="557.4" y2="364.6" stroke="#5c5c5c" stroke-width="0.9"/>
<line x1="600.3" y1="376.6" x2="600.3" y2="380.2" stroke="#5c5c5c" stroke-width="0.9"/>
<line x1="597.9" y1="376.6" x2="602.6999999999999" y2="376.6" stroke="#5c5c5c" stroke-width="0.9"/>
<line x1="597.9" y1="380.2" x2="602.6999999999999" y2="380.2" stroke="#5c5c5c" stroke-width="0.9"/>
<line x1="628.2" y1="262.5" x2="628.2" y2="265.0" stroke="#5c5c5c" stroke-width="0.9"/>
<line x1="625.8000000000001" y1="262.5" x2="630.6" y2="262.5" stroke="#5c5c5c" stroke-width="0.9"/>
<line x1="625.8000000000001" y1="265.0" x2="630.6" y2="265.0" stroke="#5c5c5c" stroke-width="0.9"/>
<line x1="656" y1="368.0" x2="656" y2="371.4" stroke="#5c5c5c" stroke-width="0.9"/>
<line x1="653.6" y1="368.0" x2="658.4" y2="368.0" stroke="#5c5c5c" stroke-width="0.9"/>
<line x1="653.6" y1="371.4" x2="658.4" y2="371.4" stroke="#5c5c5c" stroke-width="0.9"/>
<line x1="377.0" y1="254.6" x2="377.0" y2="386.09999999999997" stroke="#000" stroke-width="1.5"/>
<line x1="375.5" y1="385.4" x2="677" y2="385.4" stroke="#000" stroke-width="1.6"/>
<line x1="374.5" y1="385.4" x2="377.0" y2="385.4" stroke="#111" stroke-width="1.1"/>
<text transform="translate(369.2 389.0) scale(0.8333 1)" font-family="'Liberation Serif', serif" font-size="11.16" font-weight="bold" fill="#111" text-anchor="end" textLength="5.04" lengthAdjust="spacingAndGlyphs">0</text>
<line x1="374.5" y1="370.8666666666667" x2="377.0" y2="370.8666666666667" stroke="#111" stroke-width="1.1"/>
<text transform="translate(369.2 374.4666666666667) scale(0.8333 1)" font-family="'Liberation Serif', serif" font-size="11.16" font-weight="bold" fill="#111" text-anchor="end" textLength="5.04" lengthAdjust="spacingAndGlyphs">2</text>
<line x1="374.5" y1="356.3333333333333" x2="377.0" y2="356.3333333333333" stroke="#111" stroke-width="1.1"/>
<text transform="translate(369.2 359.93333333333334) scale(0.8333 1)" font-family="'Liberation Serif', serif" font-size="11.16" font-weight="bold" fill="#111" text-anchor="end" textLength="5.04" lengthAdjust="spacingAndGlyphs">4</text>
<line x1="374.5" y1="341.79999999999995" x2="377.0" y2="341.79999999999995" stroke="#111" stroke-width="1.1"/>
<text transform="translate(369.2 345.4) scale(0.8333 1)" font-family="'Liberation Serif', serif" font-size="11.16" font-weight="bold" fill="#111" text-anchor="end" textLength="5.04" lengthAdjust="spacingAndGlyphs">6</text>
<line x1="374.5" y1="327.26666666666665" x2="377.0" y2="327.26666666666665" stroke="#111" stroke-width="1.1"/>
<text transform="translate(369.2 330.8666666666667) scale(0.8333 1)" font-family="'Liberation Serif', serif" font-size="11.16" font-weight="bold" fill="#111" text-anchor="end" textLength="5.04" lengthAdjust="spacingAndGlyphs">8</text>
<line x1="374.5" y1="312.73333333333335" x2="377.0" y2="312.73333333333335" stroke="#111" stroke-width="1.1"/>
<text transform="translate(369.2 316.33333333333337) scale(0.8333 1)" font-family="'Liberation Serif', serif" font-size="11.16" font-weight="bold" fill="#111" text-anchor="end" textLength="10.08" lengthAdjust="spacingAndGlyphs">10</text>
<line x1="374.5" y1="298.2" x2="377.0" y2="298.2" stroke="#111" stroke-width="1.1"/>
<text transform="translate(369.2 301.8) scale(0.8333 1)" font-family="'Liberation Serif', serif" font-size="11.16" font-weight="bold" fill="#111" text-anchor="end" textLength="10.08" lengthAdjust="spacingAndGlyphs">12</text>
<line x1="374.5" y1="283.66666666666663" x2="377.0" y2="283.66666666666663" stroke="#111" stroke-width="1.1"/>
<text transform="translate(369.2 287.26666666666665) scale(0.8333 1)" font-family="'Liberation Serif', serif" font-size="11.16" font-weight="bold" fill="#111" text-anchor="end" textLength="10.08" lengthAdjust="spacingAndGlyphs">14</text>
<line x1="374.5" y1="269.1333333333333" x2="377.0" y2="269.1333333333333" stroke="#111" stroke-width="1.1"/>
<text transform="translate(369.2 272.73333333333335) scale(0.8333 1)" font-family="'Liberation Serif', serif" font-size="11.16" font-weight="bold" fill="#111" text-anchor="end" textLength="10.08" lengthAdjust="spacingAndGlyphs">16</text>
<line x1="374.5" y1="254.6" x2="377.0" y2="254.6" stroke="#111" stroke-width="1.1"/>
<text transform="translate(369.2 258.2) scale(0.8333 1)" font-family="'Liberation Serif', serif" font-size="11.16" font-weight="bold" fill="#111" text-anchor="end" textLength="10.08" lengthAdjust="spacingAndGlyphs">18</text>
<text transform="translate(356.3 318.8) rotate(-90) scale(1.0000 1)" font-family="'Liberation Serif', serif" font-size="9.60" font-weight="bold" fill="#111" text-anchor="middle" textLength="115.00" lengthAdjust="spacingAndGlyphs">Relative &#160;gene expression</text>
<text transform="translate(635.7 239) scale(0.8333 1)" font-family="'Liberation Serif', serif" font-size="12.72" fill="#555" textLength="30.00" lengthAdjust="spacingAndGlyphs">SRPP</text>
<text transform="translate(399.5 365.6) scale(1.0000 1)" font-family="'Liberation Serif', serif" font-size="9.40" fill="#000" text-anchor="middle" stroke="#000" stroke-width="0.1">g</text>
<text transform="translate(426.7 315.8) scale(0.8333 1)" font-family="'Liberation Sans', sans-serif" font-size="9.84" fill="#111" text-anchor="middle">c</text>
<text transform="translate(455.6 297.8) scale(0.8333 1)" font-family="'Liberation Sans', sans-serif" font-size="9.84" fill="#111" text-anchor="middle">b</text>
<text transform="translate(499.6 366.4) scale(1.0000 1)" font-family="'Liberation Serif', serif" font-size="9.40" fill="#000" text-anchor="middle" stroke="#000" stroke-width="0.1">g</text>
<text transform="translate(527.1 362.6) scale(1.0000 1)" font-family="'Liberation Serif', serif" font-size="9.40" fill="#000" text-anchor="middle" stroke="#000" stroke-width="0.1">ef</text>
<text transform="translate(554.7 352) scale(1.0000 1)" font-family="'Liberation Serif', serif" font-size="9.40" fill="#000" text-anchor="middle" stroke="#000" stroke-width="0.1">d</text>
<text transform="translate(600.4 368.5) scale(1.0000 1)" font-family="'Liberation Serif', serif" font-size="9.40" fill="#000" text-anchor="middle" stroke="#000" stroke-width="0.1">g</text>
<text transform="translate(627 256.6) scale(0.8333 1)" font-family="'Liberation Sans', sans-serif" font-size="9.84" fill="#111" text-anchor="middle">a</text>
<text transform="translate(655 361.1) scale(1.0000 1)" font-family="'Liberation Serif', serif" font-size="9.40" fill="#000" text-anchor="middle" stroke="#000" stroke-width="0.1">ef</text>
<text transform="translate(428 402.3) scale(0.8333 1)" font-family="'Liberation Serif', serif" font-size="10.80" font-weight="bold" fill="#111" text-anchor="middle">6h</text>
<text transform="translate(527 402.3) scale(0.8333 1)" font-family="'Liberation Serif', serif" font-size="10.80" font-weight="bold" fill="#111" text-anchor="middle">12h</text>
<text transform="translate(627 402.3) scale(0.8333 1)" font-family="'Liberation Serif', serif" font-size="10.80" font-weight="bold" fill="#111" text-anchor="middle">24h</text>
<text transform="translate(476.6 415.7) scale(0.9091 1)" font-family="'Liberation Serif', serif" font-size="10.12" font-weight="bold" fill="#111" word-spacing="2.4">Time after treatment (h)</text>
<rect x="456.9" y="438.1" width="4.4" height="4.4" fill="#1a1a1a" stroke="#555" stroke-width="0.4"/>
<text transform="translate(462.8 443.8) scale(0.8333 1)" font-family="'Liberation Serif', serif" font-size="10.80" fill="#3a3a3a" textLength="25.20" lengthAdjust="spacingAndGlyphs">0 μM</text>
<rect x="491.4" y="438.1" width="4.4" height="4.4" fill="#6b2a28" stroke="#555" stroke-width="0.4"/>
<text transform="translate(497.2 443.8) scale(0.8333 1)" font-family="'Liberation Serif', serif" font-size="10.80" fill="#3a3a3a" textLength="35.04" lengthAdjust="spacingAndGlyphs">200 μM</text>
<rect x="533.7" y="438.1" width="4.4" height="4.4" fill="#566d2c" stroke="#555" stroke-width="0.4"/>
<text transform="translate(539.6 443.8) scale(0.8333 1)" font-family="'Liberation Serif', serif" font-size="10.80" fill="#3a3a3a" textLength="34.68" lengthAdjust="spacingAndGlyphs">400 μM</text>
</g>
</svg>
</body></html>
